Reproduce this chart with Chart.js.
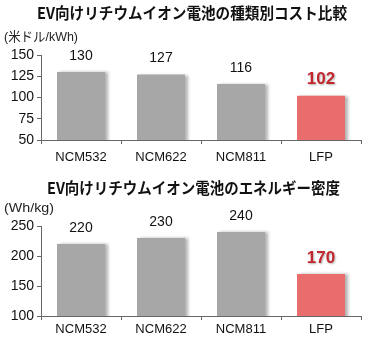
<!DOCTYPE html>
<html>
<head>
<meta charset="utf-8">
<script src="https://cdn.jsdelivr.net/npm/chart.js@4.4.1/dist/chart.umd.min.js"></script>
<style>
  html, body { margin: 0; padding: 0; background: #fff; }
  canvas { display: block; }
</style>
</head>
<body>
<canvas id="costChart" width="370" height="170"></canvas>
<canvas id="densityChart" width="370" height="171"></canvas>
<script>
// ===============================
// Data
// ===============================
const categories = ["NCM532", "NCM622", "NCM811", "LFP"];
const costValues = [130, 127, 116, 102];        // USD / kWh
const densityValues = [220, 230, 240, 170];     // Wh / kg
const costTicks = [50, 75, 100, 125, 150];
const densityTicks = [100, 150, 200, 250];

const costTitle = "EV向けリチウムイオン電池の種類別コスト比較";
const costUnit = "(米ドル/kWh)";
const densityTitle = "EV向けリチウムイオン電池のエネルギー密度";
const densityUnit = "(Wh/kg)";

// LFP is the highlighted bar
const highlight = "LFP";

const GRAY = "#a7a7a7";
const RED = "#e86d6c";
const RED_TEXT = "#c1272d";
const AXIS = "#666";
const FONT = "'Liberation Sans', Arial, 'Noto Sans CJK JP', sans-serif";
const TITLE_FONT = "bold 15.5px 'Noto Sans CJK JP', 'Liberation Sans', sans-serif";

// ===============================
// Plugins
// ===============================
// soft drop shadow behind the bars
const barShadow = {
  id: "barShadow",
  beforeDatasetDraw(chart) {
    const ctx = chart.ctx;
    ctx.save();
    ctx.shadowColor = "rgba(0,0,0,0.3)";
    ctx.shadowBlur = 3;
    ctx.shadowOffsetX = 3;
    ctx.shadowOffsetY = 0;
  },
  afterDatasetDraw(chart) {
    chart.ctx.restore();
  }
};

// numbers above each bar
const valueLabels = {
  id: "valueLabels",
  afterDatasetsDraw(chart) {
    const ctx = chart.ctx;
    const ds = chart.data.datasets[0];
    chart.getDatasetMeta(0).data.forEach((bar, i) => {
      const hot = chart.data.labels[i] === highlight;
      ctx.save();
      ctx.textAlign = "center";
      ctx.textBaseline = "middle";
      if (hot) {
        ctx.font = "bold 17px " + FONT;
        ctx.fillStyle = RED_TEXT;
        ctx.shadowColor = "rgba(0,0,0,0.3)";
        ctx.shadowBlur = 2;
        ctx.shadowOffsetX = 1;
        ctx.shadowOffsetY = 1;
      } else {
        ctx.font = "14px " + FONT;
        ctx.fillStyle = "#111";
      }
      ctx.fillText(String(ds.data[i]), bar.x, bar.y - 16);
      ctx.restore();
    });
  }
};

// draw text squeezed horizontally to a given width
function narrowText(ctx, text, cx, cy, width) {
  const w = ctx.measureText(text).width;
  ctx.save();
  ctx.translate(cx, cy);
  ctx.scale(width / w, 1);
  ctx.fillText(text, 0, 0);
  ctx.restore();
}

// chart heading and unit text
const header = {
  id: "header",
  afterDraw(chart, args, opts) {
    const ctx = chart.ctx;
    ctx.save();
    ctx.fillStyle = "#111";
    ctx.textBaseline = "middle";
    ctx.textAlign = "center";
    ctx.font = TITLE_FONT;
    narrowText(ctx, opts.title, opts.titleX, opts.titleY, opts.titleW);
    ctx.textAlign = "left";
    ctx.font = "13px " + FONT;
    ctx.fillStyle = "#222";
    narrowText(ctx, opts.unit, 4, opts.unitY, opts.unitW);
    ctx.restore();
  }
};

// ===============================
// Builder
// ===============================
function buildChart(id, values, ticks, cfg) {
  const min = ticks[0];
  const max = ticks[ticks.length - 1];
  return new Chart(document.getElementById(id), {
    type: "bar",
    data: {
      labels: categories,
      datasets: [{
        data: values,
        backgroundColor: categories.map(c => c === highlight ? RED : GRAY),
        borderWidth: 0,
        categoryPercentage: 1,
        barPercentage: 0.6
      }]
    },
    options: {
      responsive: false,
      animation: false,
      devicePixelRatio: 1,
      layout: { padding: { top: cfg.top, right: 9, left: 0, bottom: 0 } },
      plugins: {
        legend: { display: false },
        tooltip: { enabled: false },
        header: cfg.header
      },
      scales: {
        x: {
          afterFit: s => { s.height = cfg.xHeight; },
          border: { color: AXIS, width: 1 },
          grid: { drawOnChartArea: false, color: AXIS, tickLength: 4, offset: true },
          ticks: { color: "#111", font: { family: FONT, size: 13 }, padding: cfg.xPad, maxRotation: 0 }
        },
        y: {
          min: min,
          max: max,
          afterFit: s => { s.width = 41; },
          afterBuildTicks: s => { s.ticks = ticks.map(v => ({ value: v })); },
          border: { color: AXIS, width: 1 },
          grid: { drawOnChartArea: false, color: AXIS, tickLength: 4 },
          ticks: { color: "#111", font: { family: FONT, size: 14 }, padding: 3 }
        }
      }
    },
    plugins: [barShadow, valueLabels, header]
  });
}

buildChart("costChart", costValues, costTicks, {
  top: 55, xHeight: 30, xPad: 6,
  header: { title: costTitle, unit: costUnit, titleX: 192, titleY: 13, titleW: 310, unitY: 37, unitW: 74 }
});

buildChart("densityChart", densityValues, densityTicks, {
  top: 56, xHeight: 25, xPad: 2,
  header: { title: densityTitle, unit: densityUnit, titleX: 193.5, titleY: 18, titleW: 293, unitY: 38, unitW: 50 }
});
</script>
</body>
</html>
